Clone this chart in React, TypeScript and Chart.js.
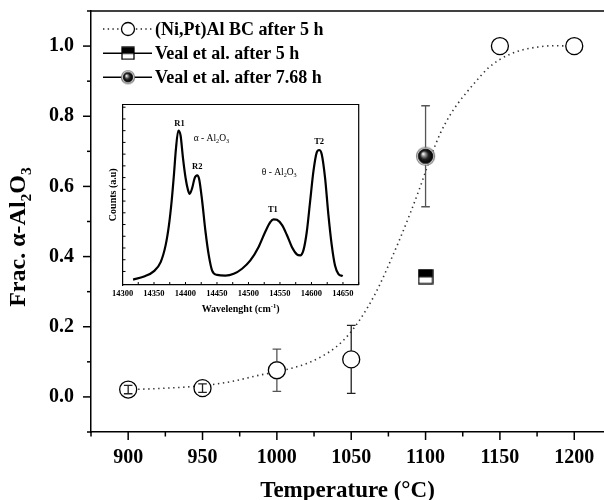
import React, { useEffect, useRef } from 'react';
import { Chart, registerables } from 'chart.js';
Chart.register(...registerables);

const FONT = '"Liberation Serif", "Times New Roman", serif';

// ---- main chart data ----
const tempC = [900, 950, 1000, 1050, 1150, 1200];
const fracAlpha = [0.021, 0.025, 0.076, 0.107, 1.0, 1.0];
const fracErr = [0.012, 0.012, 0.06, 0.097, 0, 0];
const veal5hTemp = [1100];
const veal5hFrac = [0.343];
const veal768Temp = [1100];
const veal768Frac = [0.686];
const veal768Err = [0.144];
const fitTemp = [900, 915, 930, 945, 958, 972, 986, 1000, 1010, 1020, 1030, 1040, 1048, 1055, 1062, 1069, 1076, 1083, 1090, 1097, 1104, 1110, 1116, 1122, 1128, 1135, 1142, 1150, 1158, 1166, 1175, 1185, 1200];
const fitFrac = [0.021, 0.023, 0.026, 0.030, 0.036, 0.046, 0.060, 0.072, 0.082, 0.095, 0.115, 0.143, 0.176, 0.215, 0.262, 0.318, 0.384, 0.453, 0.527, 0.606, 0.690, 0.752, 0.800, 0.838, 0.870, 0.905, 0.937, 0.962, 0.979, 0.990, 0.997, 1.001, 1.0];
const xTickVals = [900, 950, 1000, 1050, 1100, 1150, 1200];
const yTickVals = [0, 0.2, 0.4, 0.6, 0.8, 1.0];
const legendLabels = ['(Ni,Pt)Al BC after 5 h', 'Veal et al. after 5 h', 'Veal et al. after 7.68 h'];

// ---- inset data ----
const insetWavenumber = [14316.8, 14334.2, 14350.0, 14360.6, 14368.5, 14373.8, 14378.0, 14381.7, 14384.8, 14388.6, 14392.2, 14395.9, 14400.1, 14403.8, 14406.5, 14410.7, 14414.4, 14418.6, 14421.8, 14426.5, 14431.8, 14437.0, 14442.3, 14450.2, 14463.4, 14476.6, 14489.8, 14503.0, 14516.1, 14526.7, 14534.6, 14539.9, 14545.2, 14553.1, 14561.0, 14568.9, 14576.8, 14582.1, 14587.3, 14592.6, 14597.9, 14603.2, 14608.4, 14612.2, 14616.3, 14621.6, 14626.9, 14632.2, 14637.4, 14642.7, 14649.6];
const insetCounts = [0.030, 0.047, 0.077, 0.127, 0.221, 0.333, 0.464, 0.613, 0.753, 0.856, 0.828, 0.707, 0.594, 0.529, 0.505, 0.538, 0.591, 0.607, 0.585, 0.464, 0.295, 0.164, 0.080, 0.056, 0.052, 0.062, 0.090, 0.136, 0.211, 0.295, 0.348, 0.364, 0.361, 0.333, 0.277, 0.211, 0.170, 0.164, 0.193, 0.295, 0.464, 0.632, 0.735, 0.748, 0.725, 0.594, 0.389, 0.221, 0.108, 0.062, 0.049];
const insetXTickVals = [14300, 14350, 14400, 14450, 14500, 14550, 14600, 14650];
const peakNames = ['R1', 'R2', 'T1', 'T2'];
const peakLabelX = [14390.6, 14418.6, 14538.8, 14612.2];
const peakLabelY = [0.90, 0.66, 0.422, 0.80];
const phaseNames = ['α', 'θ'];
const phaseLabelX = [14413, 14521];
const phaseLabelY = [0.815, 0.628];

type Part = { t: string; k?: 'sub' | 'sup' };

function drawRich(ctx: CanvasRenderingContext2D, parts: Part[], x: number, y: number, size: number, weight: string, align: 'left' | 'center') {
  const fontFor = (k?: string) => `${weight} ${k ? size * 0.65 : size}px ${FONT}`;
  let w = 0;
  for (const p of parts) { ctx.font = fontFor(p.k); w += ctx.measureText(p.t).width; }
  let cx = align === 'center' ? x - w / 2 : x;
  ctx.textAlign = 'left';
  ctx.textBaseline = 'alphabetic';
  for (const p of parts) {
    ctx.font = fontFor(p.k);
    const dy = p.k === 'sub' ? size * 0.25 : p.k === 'sup' ? -size * 0.4 : 0;
    ctx.fillText(p.t, cx, y + dy);
    cx += ctx.measureText(p.t).width;
  }
}

function makeSphere(r: number) {
  const s = Math.ceil(r * 2 + 3);
  const c = document.createElement('canvas');
  c.width = s; c.height = s;
  const g = c.getContext('2d')!;
  const cx = s / 2;
  g.beginPath(); g.arc(cx, cx, r, 0, Math.PI * 2);
  g.fillStyle = '#fff'; g.fill();
  g.lineWidth = 1.2; g.strokeStyle = '#777'; g.stroke();
  const ri = r - 1.7;
  const grad = g.createRadialGradient(cx - ri * 0.35, cx - ri * 0.35, ri * 0.05, cx, cx, ri);
  grad.addColorStop(0, '#ffffff');
  grad.addColorStop(0.22, '#9a9a9a');
  grad.addColorStop(0.55, '#222');
  grad.addColorStop(1, '#000');
  g.beginPath(); g.arc(cx, cx, ri, 0, Math.PI * 2);
  g.fillStyle = grad; g.fill();
  g.lineWidth = 0.8; g.strokeStyle = '#000'; g.stroke();
  return c;
}

function makeHalfSquare(w: number, h: number) {
  const c = document.createElement('canvas');
  c.width = w + 2; c.height = h + 2;
  const g = c.getContext('2d')!;
  g.fillStyle = '#fff'; g.fillRect(1, 1, w, h);
  g.fillStyle = '#000'; g.fillRect(1, 1, w, h * 0.55);
  g.lineWidth = 1.3; g.strokeStyle = '#000'; g.strokeRect(1, 1, w, h);
  return c;
}

const zeroPad = (s: any) => { s.paddingTop = 0; s.paddingBottom = 0; s.paddingLeft = 0; s.paddingRight = 0; };

export default function App() {
  const mainRef = useRef<HTMLCanvasElement>(null);
  const insetRef = useRef<HTMLCanvasElement>(null);

  useEffect(() => {
    const sphere = makeSphere(9);
    const sphereSmall = makeSphere(6.5);
    const halfSq = makeHalfSquare(14, 14);
    const halfSqSmall = makeHalfSquare(12, 12);

    const axesPlugin = {
      id: 'mainAxes',
      afterDraw(chart: any) {
        const { ctx, chartArea: a, scales } = chart;
        const x = scales.x, y = scales.y;
        ctx.save();
        ctx.strokeStyle = '#000';
        ctx.lineWidth = 1.5;
        ctx.beginPath(); ctx.moveTo(a.left, a.top); ctx.lineTo(a.right, a.top); ctx.stroke();
        for (let v = 875; v <= 1220; v += 25) {
          const px = x.getPixelForValue(v);
          const major = v % 50 === 0;
          ctx.beginPath(); ctx.moveTo(px, a.bottom); ctx.lineTo(px, a.bottom + (major ? 8 : 4.5)); ctx.stroke();
        }
        for (let i = -1; i <= 11; i++) {
          const v = i / 10;
          const py = y.getPixelForValue(v);
          const major = i % 2 === 0;
          ctx.beginPath(); ctx.moveTo(a.left, py); ctx.lineTo(a.left - (major ? 8 : 4), py); ctx.stroke();
        }
        ctx.fillStyle = '#000';
        drawRich(ctx, [{ t: 'Temperature (°C)' }], (a.left + a.right) / 2, 496.5, 23, 'bold', 'center');
        ctx.save();
        ctx.translate(25, 237);
        ctx.rotate(-Math.PI / 2);
        drawRich(ctx, [{ t: 'Frac. α-Al' }, { t: '2', k: 'sub' }, { t: 'O' }, { t: '3', k: 'sub' }], 0, 0, 24, 'bold', 'center');
        ctx.restore();

        const rows = [29, 53.3, 77.3];
        const lx0 = 103, lx1 = 152, sx = 128, tx = 155;
        rows.forEach((ry, i) => {
          ctx.save();
          ctx.strokeStyle = '#222';
          if (i === 0) { ctx.setLineDash([1.4, 3.3]); ctx.lineWidth = 1.6; } else { ctx.setLineDash([]); ctx.lineWidth = 1.5; ctx.strokeStyle = '#000'; }
          ctx.beginPath(); ctx.moveTo(lx0, ry); ctx.lineTo(lx1, ry); ctx.stroke();
          ctx.restore();
          if (i === 0) {
            ctx.beginPath(); ctx.arc(sx, ry, 6.5, 0, Math.PI * 2);
            ctx.fillStyle = '#fff'; ctx.fill(); ctx.lineWidth = 1.3; ctx.strokeStyle = '#000'; ctx.stroke();
          } else if (i === 1) {
            ctx.drawImage(halfSqSmall, sx - halfSqSmall.width / 2, ry - halfSqSmall.height / 2);
          } else {
            ctx.drawImage(sphereSmall, sx - sphereSmall.width / 2, ry - sphereSmall.height / 2);
          }
          ctx.fillStyle = '#000';
          drawRich(ctx, [{ t: legendLabels[i] }], tx, ry + 6, 18, 'bold', 'left');
        });
        ctx.restore();
      },
    };

    const errorPlugin = {
      id: 'errorBars',
      afterDatasetsDraw(chart: any) {
        const { ctx, scales } = chart;
        const x = scales.x, y = scales.y;
        const drawBar = (xv: number, yv: number, e: number, r: number, color: string) => {
          if (!e) return;
          const px = x.getPixelForValue(xv);
          const pt = y.getPixelForValue(yv + e);
          const pb = y.getPixelForValue(yv - e);
          const pc = y.getPixelForValue(yv);
          ctx.save();
          ctx.strokeStyle = color;
          ctx.lineWidth = 1.3;
          ctx.beginPath();
          if (pc - pt > r) {
            ctx.moveTo(px, pt); ctx.lineTo(px, pc - r);
            ctx.moveTo(px, pc + r); ctx.lineTo(px, pb);
          } else {
            ctx.moveTo(px, pt); ctx.lineTo(px, pb);
          }
          const cw = 4.3;
          ctx.moveTo(px - cw, pt); ctx.lineTo(px + cw, pt);
          ctx.moveTo(px - cw, pb); ctx.lineTo(px + cw, pb);
          ctx.stroke();
          ctx.restore();
        };
        tempC.forEach((t, i) => drawBar(t, fracAlpha[i], fracErr[i], 8.5, i === 2 ? '#555' : '#222'));
        veal768Temp.forEach((t, i) => drawBar(t, veal768Frac[i], veal768Err[i], 9, '#555'));
      },
    };

    const tickFont = { family: FONT, size: 20, weight: 'bold' as const };

    const main = new Chart(mainRef.current!, {
      type: 'scatter',
      data: {
        datasets: [
          {
            label: legendLabels[0],
            data: tempC.map((t, i) => ({ x: t, y: fracAlpha[i] })),
            pointStyle: 'circle',
            pointRadius: 8.5,
            pointBackgroundColor: '#fff',
            pointBorderColor: '#000',
            pointBorderWidth: 1.3,
            showLine: false,
            order: 1,
          },
          {
            label: legendLabels[1],
            data: veal5hTemp.map((t, i) => ({ x: t, y: veal5hFrac[i] })),
            pointStyle: halfSq as any,
            pointRadius: 8,
            showLine: false,
            order: 1,
          },
          {
            label: legendLabels[2],
            data: veal768Temp.map((t, i) => ({ x: t, y: veal768Frac[i] })),
            pointStyle: sphere as any,
            pointRadius: 9,
            showLine: false,
            order: 1,
          },
          {
            label: 'fit',
            data: fitTemp.map((t, i) => ({ x: t, y: fitFrac[i] })),
            showLine: true,
            pointRadius: 0,
            borderColor: '#333',
            borderWidth: 1.6,
            borderDash: [1.4, 3.6],
            cubicInterpolationMode: 'monotone',
            order: 5,
          } as any,
        ],
      },
      options: {
        responsive: false,
        animation: false,
        devicePixelRatio: 1,
        layout: { autoPadding: false, padding: { top: 11, left: 0, right: 0, bottom: 0 } },
        plugins: { legend: { display: false }, tooltip: { enabled: false } },
        scales: {
          x: {
            type: 'linear',
            min: 875,
            max: 1220,
            afterBuildTicks: (s: any) => { s.ticks = xTickVals.map((v) => ({ value: v })); },
            afterFit: (s: any) => { s.height = 68; zeroPad(s); },
            grid: { display: false, drawTicks: false },
            border: { display: true, color: '#000', width: 1.5 },
            ticks: { font: tickFont, color: '#000', padding: 14, maxRotation: 0, autoSkip: false, callback: (v: any) => String(v) },
          },
          y: {
            min: -0.1,
            max: 1.1,
            afterBuildTicks: (s: any) => { s.ticks = yTickVals.map((v) => ({ value: v })); },
            afterFit: (s: any) => { s.width = 91; zeroPad(s); },
            grid: { display: false, drawTicks: false },
            border: { display: true, color: '#000', width: 1.5 },
            ticks: { font: tickFont, color: '#000', padding: 17, callback: (v: any) => Number(v).toFixed(1) },
          },
        },
      },
      plugins: [errorPlugin, axesPlugin],
    });

    const insetPlugin = {
      id: 'insetDeco',
      afterDraw(chart: any) {
        const { ctx, chartArea: a, scales } = chart;
        const x = scales.x, y = scales.y;
        ctx.save();
        ctx.strokeStyle = '#000';
        ctx.lineWidth = 1.2;
        ctx.beginPath();
        ctx.moveTo(a.left, a.top); ctx.lineTo(a.right, a.top); ctx.lineTo(a.right, a.bottom);
        ctx.stroke();
        ctx.lineWidth = 1;
        for (let v = 14325; v <= 14675; v += 25) {
          const px = x.getPixelForValue(v);
          ctx.beginPath(); ctx.moveTo(px, a.bottom); ctx.lineTo(px, a.bottom - 3); ctx.stroke();
        }
        for (let v = 0.075; v < 1; v += 0.065) {
          const py = y.getPixelForValue(v);
          ctx.beginPath(); ctx.moveTo(a.left, py); ctx.lineTo(a.left + 3, py); ctx.stroke();
        }
        ctx.fillStyle = '#000';
        peakNames.forEach((n, i) => {
          drawRich(ctx, [{ t: n }], x.getPixelForValue(peakLabelX[i]), y.getPixelForValue(peakLabelY[i]) + 3, 8.5, 'bold', 'center');
        });
        phaseNames.forEach((n, i) => {
          drawRich(ctx, [{ t: n + ' - Al' }, { t: '2', k: 'sub' }, { t: 'O' }, { t: '3', k: 'sub' }], x.getPixelForValue(phaseLabelX[i]), y.getPixelForValue(phaseLabelY[i]) + 3, 9.5, 'normal', 'left');
        });
        drawRich(ctx, [{ t: 'Wavelenght (cm' }, { t: '-1', k: 'sup' }, { t: ')' }], (a.left + a.right) / 2, 216.6, 10, 'bold', 'center');
        ctx.save();
        ctx.translate(21, (a.top + a.bottom) / 2);
        ctx.rotate(-Math.PI / 2);
        drawRich(ctx, [{ t: 'Counts (a.u)' }], 0, 0, 10, 'bold', 'center');
        ctx.restore();
        ctx.restore();
      },
    };

    const inset = new Chart(insetRef.current!, {
      type: 'scatter',
      data: {
        datasets: [
          {
            data: insetWavenumber.map((w, i) => ({ x: w, y: insetCounts[i] })),
            showLine: true,
            pointRadius: 0,
            borderColor: '#000',
            borderWidth: 2.2,
            cubicInterpolationMode: 'monotone',
          } as any,
        ],
      },
      options: {
        responsive: false,
        animation: false,
        devicePixelRatio: 1,
        layout: { autoPadding: false, padding: { top: 9.5, right: 11.3, left: 0, bottom: 0 } },
        plugins: { legend: { display: false }, tooltip: { enabled: false } },
        scales: {
          x: {
            type: 'linear',
            min: 14300,
            max: 14675,
            afterBuildTicks: (s: any) => { s.ticks = insetXTickVals.map((v) => ({ value: v })); },
            afterFit: (s: any) => { s.height = 35; zeroPad(s); },
            grid: { display: false, drawTicks: false },
            border: { display: true, color: '#000', width: 1.2 },
            ticks: { font: { family: FONT, size: 8.5, weight: 'bold' }, color: '#000', padding: 4, maxRotation: 0, autoSkip: false, callback: (v: any) => String(v) },
          },
          y: {
            min: 0,
            max: 1,
            afterFit: (s: any) => { s.width = 27.5; zeroPad(s); },
            grid: { display: false, drawTicks: false },
            border: { display: true, color: '#000', width: 1.2 },
            ticks: { display: false },
          },
        },
      },
      plugins: [insetPlugin],
    });

    return () => { main.destroy(); inset.destroy(); };
  }, []);

  return (
    <div style={{ position: 'absolute', left: 0, top: 0, width: 604, height: 500, background: '#fff', overflow: 'hidden' }}>
      <canvas ref={mainRef} width={604} height={500} style={{ position: 'absolute', left: 0, top: 0, width: 604, height: 500 }} />
      <canvas ref={insetRef} width={275} height={225} style={{ position: 'absolute', left: 95, top: 95, width: 275, height: 225 }} />
    </div>
  );
}
